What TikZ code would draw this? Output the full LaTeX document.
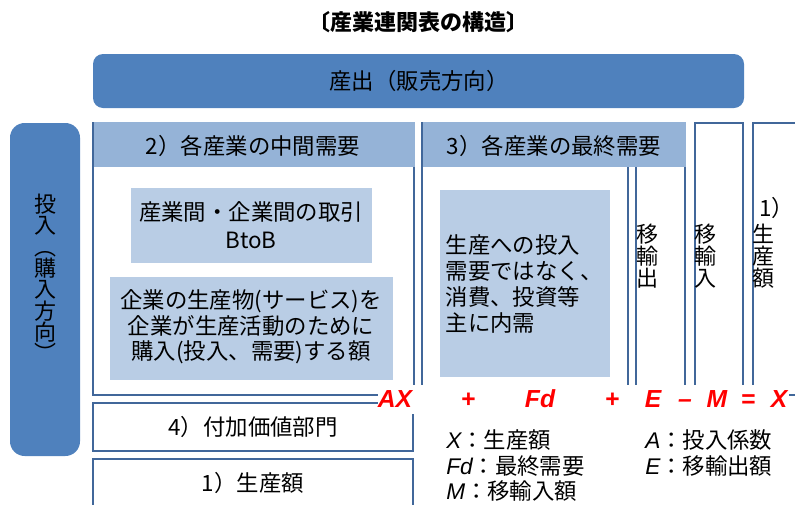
\documentclass[tikz,border=0pt]{standalone}
\usepackage{fontspec}
\setmainfont{Noto Sans CJK JP}
\newfontfamily\latinfont{Liberation Sans}
\usetikzlibrary{positioning}

\definecolor{barblue}{HTML}{4F81BD}
\definecolor{lineblue}{HTML}{41679A}
\definecolor{headblue}{HTML}{95B3D7}
\definecolor{cellblue}{HTML}{B9CDE5}
\definecolor{eqred}{HTML}{FF0000}

\begin{document}
\begin{tikzpicture}[x=0.75pt, y=-0.75pt, font=\fontsize{16.8}{19}\selectfont,
  cell/.style={draw=lineblue, line width=1pt},
  vtext/.style={anchor=north west, inner sep=0pt, align=left, font=\fontsize{16.5}{16.5}\selectfont},
  eqsym/.style={anchor=base, text=eqred, inner sep=1pt, font=\latinfont\bfseries\itshape\fontsize{18.5}{20}\selectfont},
  legend/.style={anchor=west, inner sep=0pt}]

\useasboundingbox (0,0) rectangle (795,504);

% Title
\node[font=\bfseries\fontsize{16.5}{18}\selectfont] (title) at (418,22) {〔産業連関表の構造〕};

% Output bar and input bar
\fill[barblue, rounded corners=7.5pt] (93,54) rectangle (744,108);
\node (output) at (419,81) {産出（販売方向）};
\fill[barblue, rounded corners=11pt] (10,123) rectangle (80,456);
\node[align=center, font=\fontsize{16.5}{16}\selectfont] (input) at (45,278)
  {投\\入\\︵\\購\\入\\方\\向\\︶};

% 2) intermediate demand
\draw[cell] (93,123) rectangle (414,395);
\fill[headblue] (93.7,122.3) rectangle (414.7,167);
\node (interhead) at (253,146) {2）各産業の中間需要};
\fill[cellblue] (131,188) rectangle (372,263);
\node[align=center, font=\fontsize{16.8}{21}\selectfont] (btob) at (251,225)
  {産業間・企業間の取引\\BtoB};
\fill[cellblue] (110,277) rectangle (393,380);
\node[align=center] (purchase) at (251,327)
  {企業の生産物(サービス)を\\企業が生産活動のために\\購入(投入、需要)する額};

% 3) final demand and the columns beside it
\draw[cell] (422,123) rectangle (628,395);
\foreach \xa/\xb in {636/685, 695/743, 753/810} {
  \draw[cell] (\xa,123) rectangle (\xb,395);
}
\fill[headblue] (422.7,122.3) rectangle (686,167);
\node (finalhead) at (554,146) {3）各産業の最終需要};
\fill[cellblue] (440,190) rectangle (610,377);
\node[anchor=west, align=left, font=\fontsize{16.8}{19.3}\selectfont] (domestic) at (441,284)
  {生産への投入\\需要ではなく、\\消費、投資等\\主に内需};
\node[vtext] (exports) at (636,224) {移\\輸\\出};
\node[vtext] (imports) at (694,224) {移\\輸\\入};
\node[anchor=west, inner sep=0pt] (prodnum) at (759,208) {1）};
\node[vtext] (prodcol) at (752,224) {生\\産\\額};

% 4) value added and 1) production
\draw[cell] (93,403) rectangle (413,451);
\node (valueadd) at (253,427) {4）付加価値部門};
\draw[cell] (93,459) rectangle (413,515);
\node (production) at (253,483) {1）生産額};

% Balance equation
\fill[white] (378,385) rectangle (789,414);
\foreach \x/\t/\n in {395/AX/eqAX, 468/+/eqplusa, 540/Fd/eqFd, 612/+/eqplusb,
                      653/E/eqE, 685/–/eqminus, 717/M/eqM, 748/=/eqequal, 779/X/eqX} {
  \node[eqsym] (\n) at (\x,407) {\t};
}

% Legend
\foreach \x/\y/\s/\t/\n in {446/440/X/生産額/legX, 446/466/Fd/最終需要/legFd,
                            446/491/M/移輸入額/legM, 645/440/A/投入係数/legA,
                            645/466/E/移輸出額/legE} {
  \node[legend] (\n) at (\x,\y) {{\latinfont\itshape\fontsize{17}{18}\selectfont\s}：\t};
}

\end{tikzpicture}
\end{document}
